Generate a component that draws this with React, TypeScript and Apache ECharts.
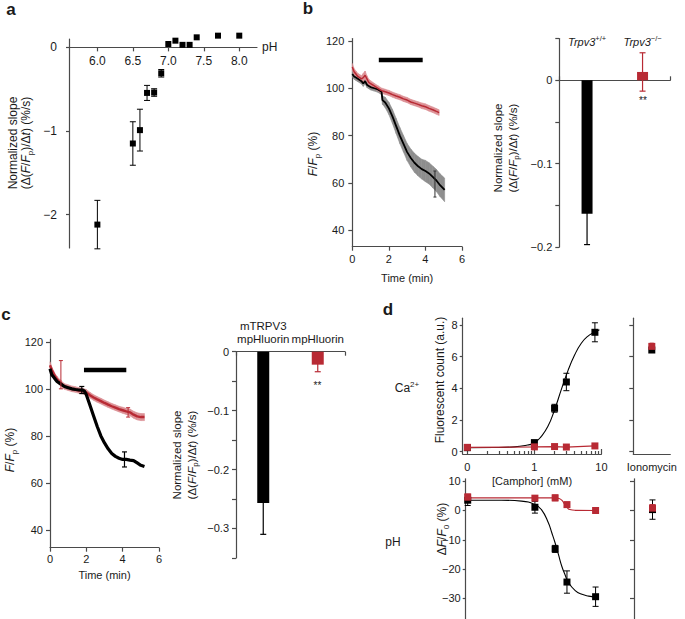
import React, { useEffect, useRef } from 'react';
import * as echarts from 'echarts';

// ---------------- data ----------------
// panel a
const phA = [6.0, 6.5, 6.6, 6.7, 6.8, 6.9, 7.0, 7.1, 7.2, 7.3, 7.4, 7.7, 8.0];
const slopeA = [-2.12, -1.15, -0.99, -0.545, -0.54, -0.31, 0.04, 0.08, 0.03, 0.03, 0.12, 0.14, 0.14];
const semA = [0.29, 0.26, 0.25, 0.09, 0.045, 0.045, 0, 0, 0, 0, 0, 0, 0];
const phTicksA = [6.0, 6.5, 7.0, 7.5, 8.0];
const slopeTicksA = [0, -1, -2];

// panel b (left) time course
const timeRedB = [0, 0.1, 0.2, 0.3, 0.4, 0.5, 0.6, 0.7, 0.8, 0.9, 1.0, 1.2, 1.4, 1.6, 1.8, 2.0, 2.2, 2.4, 2.6, 2.8, 3.0, 3.2, 3.4, 3.6, 3.8, 4.0, 4.2, 4.4, 4.6, 4.75];
const redB = [109, 107, 106, 105, 104.5, 104, 104.5, 105.5, 104, 102.5, 102, 101, 100, 99, 98.5, 98, 97.3, 96.7, 96.2, 95.5, 95, 94.2, 93.7, 93.2, 92.6, 92.2, 91.5, 90.9, 90.2, 89.7];
const semRedB = [1.5, 1.3, 1.3, 1.3, 1.3, 1.3, 1.8, 1.8, 1.3, 1.3, 1.2, 1.1, 1.1, 1.1, 1.1, 1.1, 1.1, 1.1, 1.1, 1.1, 1.1, 1.1, 1.1, 1.1, 1.2, 1.2, 1.2, 1.2, 1.2, 1.2];
const timeBlackB = [0, 0.1, 0.2, 0.3, 0.4, 0.5, 0.6, 0.7, 0.8, 0.9, 1.0, 1.2, 1.4, 1.6, 1.65, 1.8, 2.0, 2.2, 2.4, 2.6, 2.8, 3.0, 3.2, 3.4, 3.6, 3.8, 4.0, 4.2, 4.4, 4.6, 4.8, 5.05];
const blackB = [106, 105, 104.5, 104, 103.5, 103, 102, 103, 101.5, 101, 100.5, 100, 99.5, 98.5, 95, 94, 91.5, 88, 84, 80, 76.5, 73, 70.5, 68.5, 67, 65.8, 65, 64, 62.5, 61, 59, 57];
const semBlackB = [1.2, 1.2, 1.2, 1.2, 1.2, 1.2, 1.2, 1.2, 1.2, 1.2, 1.2, 1.2, 1.2, 1.2, 1.8, 2.2, 2.6, 3, 3.2, 3.4, 3.5, 3.6, 3.8, 4, 4.1, 4.2, 4.5, 4.5, 4.6, 4.7, 4.8, 5];
const spikesB = { time: [4.52], value: [59.5], err: [5.5] };
const stimB = { start: 1.45, end: 3.85, level: 112 };
const timeTicks = [0, 2, 4, 6];
const fTicks = [40, 60, 80, 100, 120];

// panel b (right) bars
const catsB = ['Trpv3+/+', 'Trpv3−/−'];
const slopeB = [-0.16, 0.01];
const semSlopeB = [0.037, 0.023];
const tickValsB = [0.05, 0, -0.05, -0.1, -0.15, -0.2];
const labelValsB = [0, -0.1, -0.2];

// panel c (left) time course
const timeRedC = [0, 0.1, 0.2, 0.3, 0.4, 0.5, 0.6, 0.7, 0.8, 1.0, 1.2, 1.4, 1.6, 1.8, 2.0, 2.2, 2.4, 2.6, 2.8, 3.0, 3.2, 3.4, 3.6, 3.8, 4.0, 4.2, 4.4, 4.6, 4.8, 5.0, 5.2];
const redC = [110, 108, 106.5, 105, 104, 103, 102.5, 101.5, 101, 100.5, 100, 99.7, 99.3, 99, 98.5, 97.3, 96.3, 95.5, 94.8, 94, 93.3, 92.6, 92, 91.4, 90.9, 90.4, 90, 89, 88.3, 88, 88];
const semRedC = [1.5, 1.2, 1.2, 1.2, 1.2, 1.2, 1.2, 1.2, 1.2, 1.2, 1.2, 1.2, 1.2, 1.2, 1.2, 1.2, 1.2, 1.2, 1.2, 1.2, 1.2, 1.2, 1.2, 1.2, 1.3, 1.3, 1.4, 1.5, 1.5, 1.5, 1.5];
const timeBlackC = [0, 0.1, 0.2, 0.3, 0.4, 0.5, 0.6, 0.8, 1.0, 1.2, 1.4, 1.6, 1.8, 1.9, 2.0, 2.2, 2.4, 2.6, 2.8, 3.0, 3.2, 3.4, 3.6, 3.8, 4.0, 4.2, 4.4, 4.6, 4.8, 5.0, 5.2];
const blackC = [108.5, 106, 105, 104, 103, 102.5, 102, 101, 100.5, 100, 99.7, 99.5, 99.5, 99, 97.5, 93, 88.5, 84, 80, 77, 74.5, 72.5, 71.3, 70.5, 70, 70, 69.7, 69.5, 68.5, 67.5, 67];
const spikesRedC = { time: [0.6, 4.3], value: [106, 90], err: [6, 2] };
const spikesBlackC = { time: [1.75, 4.1], value: [99.5, 70], err: [1.5, 3.2] };
const stimC = { start: 1.87, end: 4.2, level: 108 };

// panel c (right) bars
const catsC = ['mTRPV3\nmpHluorin', 'mpHluorin'];
const slopeC = [-0.257, -0.022];
const semSlopeC = [0.053, 0.012];
const tickValsC = [0, -0.05, -0.1, -0.15, -0.2, -0.25, -0.3, -0.35];
const labelValsC = [0, -0.1, -0.2, -0.3];

// panel d
const camphor = [0, 1, 2, 3, 8]; // mM ("0" drawn at the 0.1 position of the log axis)
const caBlack = [0.25, 0.57, 2.74, 4.4, 7.54];
const caBlackErr = [0.08, 0.12, 0.25, 0.55, 0.6];
const caRed = [0.27, 0.3, 0.32, 0.29, 0.36];
const caRedErr = [0.05, 0.05, 0.05, 0.05, 0.05];
const caFitLogConc = [-1, -0.6, -0.3, -0.1, 0, 0.1, 0.2, 0.3, 0.4, 0.5, 0.6, 0.7, 0.8, 0.9, 0.97];
const caFitBlack = [0.25, 0.26, 0.3, 0.42, 0.55, 0.95, 1.58, 2.63, 3.9, 5.1, 6.1, 6.85, 7.3, 7.55, 7.7];
const phBlack = [3.5, 1.1, -13.1, -24.4, -29.4];
const phBlackErr = [1.8, 2.0, 1.2, 3.8, 3.3];
const phRed = [4.6, 4.2, 4.3, 2.0, 0];
const phRedErr = [1.0, 0.8, 1.0, 0.8, 0.4];
const phFitLogConc = [-1, -0.5, -0.2, 0, 0.1, 0.2, 0.25, 0.3, 0.35, 0.4, 0.45, 0.5, 0.6, 0.7, 0.8, 0.9];
const phFitBlack = [3.5, 3.5, 3.2, 2.0, 0.2, -4.2, -7.5, -11, -15, -19, -22, -24.6, -27.3, -28.6, -29.2, -29.5];
const phFitRedLogConc = [-1, 0.3, 0.36, 0.4, 0.44, 0.48, 0.52, 0.6, 0.9];
const phFitRed = [4.3, 4.3, 4.1, 3.5, 2.2, 1.0, 0.3, 0.05, 0];
const ionoCats = ['Ionomycin'];
const ionoCa = { black: 6.42, blackErr: 0.1, red: 6.65, redErr: 0.2 };
const ionoPh = { black: 0.3, blackErr: 3.3, red: 0.8, redErr: 1.2 };
const camphorMajor = [0.1, 1, 10];
const camphorMinor = [0.2, 0.3, 0.4, 0.5, 0.6, 0.7, 0.8, 0.9, 2, 3, 4, 5, 6, 7, 8, 9];
const caTicks = [0, 2, 4, 6, 8];
const phTicks = [10, 0, -10, -20, -30];

// ---------------- styles ----------------
const FONT = "'Liberation Sans', Arial, Helvetica, sans-serif";
const AX = '#4a4a4a';
const TXT = '#1a1a1a';
const RED = '#b82a34';
const REDBAND = '#dc9196';
const GRAYBAND = '#8e8e8e';

const toLog = (c: number) => (c === 0 ? -1 : Math.log10(c));
const fmtMinus = (v: number) => (v < 0 ? '\u2212' + String(Math.abs(v)) : String(v));

const axLine = (show = true, onZero = false) => ({ show, onZero, lineStyle: { color: AX, width: 1.2 } });

function richFor(fs: number) {
  const lh = fs + 4;
  return {
    i: { fontStyle: 'italic', fontSize: fs, fontFamily: FONT, fill: TXT, color: TXT, lineHeight: lh },
    n: { fontSize: fs, fontFamily: FONT, fill: TXT, color: TXT, lineHeight: lh },
    sub: { fontSize: Math.round(fs * 0.68), fontFamily: FONT, fill: TXT, color: TXT, verticalAlign: 'bottom', lineHeight: Math.round(fs * 0.68) },
    sup: { fontSize: Math.round(fs * 0.68), fontFamily: FONT, fill: TXT, color: TXT, verticalAlign: 'top', lineHeight: Math.round(fs * 0.68) },
  };
}

function txt(x: number, y: number, text: string, fs: number, opts: any = {}) {
  return {
    type: 'text',
    x,
    y,
    rotation: opts.rotate ? Math.PI / 2 : 0,
    silent: true,
    style: {
      text,
      fill: TXT,
      fontSize: fs,
      fontFamily: FONT,
      fontWeight: opts.bold ? 'bold' : 'normal',
      lineHeight: fs + 4,
      align: 'center',
      verticalAlign: 'middle',
      textAlign: 'center',
      textVerticalAlign: 'middle',
      rich: richFor(fs),
    },
  };
}

function lineS(xi: number, yi: number, xs: number[], ys: number[], color: string, width: number, extra: any = {}) {
  return {
    type: 'line',
    xAxisIndex: xi,
    yAxisIndex: yi,
    data: xs.map((x, i) => [x, ys[i]]),
    symbol: 'none',
    showSymbol: false,
    lineStyle: { color, width },
    itemStyle: { color },
    silent: true,
    z: 3,
    ...extra,
  };
}

// SEM band: one quad between each point and the next
function bandS(xi: number, yi: number, xs: number[], ys: number[], sem: number[], color: string) {
  return {
    type: 'custom',
    xAxisIndex: xi,
    yAxisIndex: yi,
    silent: true,
    z: 2,
    encode: { x: 0, y: [1, 2] },
    data: xs.map((x, i) => [x, ys[i] - sem[i], ys[i] + sem[i]]),
    renderItem: (params: any, api: any) => {
      const i = params.dataIndexInside;
      if (i >= params.dataInsideLength - 1) return null;
      const x1 = api.value(0, i);
      const lo1 = api.value(1, i);
      const hi1 = api.value(2, i);
      const x2 = api.value(0, i + 1);
      const lo2 = api.value(1, i + 1);
      const hi2 = api.value(2, i + 1);
      const pts = [api.coord([x1, hi1]), api.coord([x2, hi2]), api.coord([x2, lo2]), api.coord([x1, lo1])];
      return { type: 'polygon', shape: { points: pts }, style: { fill: color, stroke: color, lineWidth: 0.6 } };
    },
  };
}

function errS(xi: number, yi: number, xs: number[], ys: number[], es: number[], colors: string | string[], cap = 3, lw = 1, z = 4) {
  return {
    type: 'custom',
    xAxisIndex: xi,
    yAxisIndex: yi,
    silent: true,
    z,
    encode: { x: 0, y: 1 },
    data: xs.map((x, i) => [x, ys[i], es[i]]),
    renderItem: (params: any, api: any) => {
      const x = api.value(0);
      const y = api.value(1);
      const e = api.value(2);
      if (!e) return null;
      const c = Array.isArray(colors) ? colors[params.dataIndex] : colors;
      const t = api.coord([x, y + e]);
      const b = api.coord([x, y - e]);
      const st = { stroke: c, lineWidth: lw };
      return {
        type: 'group',
        children: [
          { type: 'line', shape: { x1: t[0], y1: t[1], x2: b[0], y2: b[1] }, style: st },
          { type: 'line', shape: { x1: t[0] - cap, y1: t[1], x2: t[0] + cap, y2: t[1] }, style: st },
          { type: 'line', shape: { x1: b[0] - cap, y1: b[1], x2: b[0] + cap, y2: b[1] }, style: st },
        ],
      };
    },
  };
}

function scatterS(xi: number, yi: number, xs: number[], ys: number[], color: string, size: number, z = 5) {
  return {
    type: 'scatter', xAxisIndex: xi, yAxisIndex: yi, silent: true, z, clip: false,
    symbol: 'rect', symbolSize: size,
    itemStyle: { color, opacity: 1 },
    data: xs.map((x, i) => [x, ys[i]]),
  };
}

function buildOption() {
  const gA = { left: 69, top: 39, width: 188, height: 209 };
  const aMin = -2.4;
  const aMax = 0.1;
  const grids = [
    gA, // 0 a
    { left: 352.3, top: 38.6, width: 109.7, height: 208.1 }, // 1 b left
    { left: 559.3, top: 38.6, width: 111, height: 208.5 }, // 2 b right
    { left: 50, top: 339.4, width: 109, height: 208.3 }, // 3 c left
    { left: 236, top: 351.7, width: 109, height: 206.2 }, // 4 c right
    { left: 462.7, top: 318.2, width: 138.7, height: 135.8 }, // 5 d top left
    { left: 633.3, top: 318.2, width: 37, height: 135.8 }, // 6 d top right
    { left: 465.7, top: 478.8, width: 136.4, height: 140.2 }, // 7 d bottom left
    { left: 634, top: 478.8, width: 37, height: 140.2 }, // 8 d bottom right
  ].map((g) => ({ ...g, containLabel: false, outerBoundsMode: 'none', show: false }));
  // pixel distance from the bottom of grid a up to its zero line
  const aZeroOffset = (-aMin / (aMax - aMin)) * gA.height;

  const lbl = (fs: number, margin: number, extra: any = {}) => ({ color: TXT, fontSize: fs, fontFamily: FONT, margin, ...extra });
  const tick = (len: number, inside = false, extra: any = {}) => ({ show: true, length: len, inside, lineStyle: { color: AX, width: 1.2 }, ...extra });
  const catRichTop = {
    i: { fontStyle: 'italic', fontSize: 11, fontFamily: FONT, color: TXT, lineHeight: 14 },
    sup: { fontSize: 7.5, fontFamily: FONT, color: TXT, verticalAlign: 'top', lineHeight: 8 },
  };

  const xAxis: any[] = [
    // 0 a (drawn on the zero line)
    {
      type: 'value', gridIndex: 0, min: 5.6, max: 8.25, splitLine: { show: false },
      position: 'bottom', offset: -aZeroOffset,
      axisLine: axLine(true, false),
      axisTick: tick(4, false, { customValues: phTicksA }),
      axisLabel: lbl(12, 8, { customValues: phTicksA, formatter: (v: number) => v.toFixed(1) }),
      name: 'pH', nameLocation: 'end', nameGap: 5, nameTextStyle: { color: TXT, fontSize: 12, fontFamily: FONT },
    },
    // 1 b left
    {
      type: 'value', gridIndex: 1, min: 0, max: 6, splitLine: { show: false },
      axisLine: axLine(true, false),
      axisTick: tick(4, false, { customValues: timeTicks }),
      axisLabel: lbl(11, 7, { customValues: timeTicks }),
      name: 'Time (min)', nameLocation: 'middle', nameGap: 26, nameTextStyle: { color: TXT, fontSize: 11, fontFamily: FONT },
    },
    // 2 b right (zero line)
    {
      type: 'category', gridIndex: 2, data: catsB, position: 'bottom',
      axisLine: axLine(true, true), axisTick: tick(4, true), axisLabel: { show: false }, splitLine: { show: false },
    },
    // 3 b right (top labels)
    {
      type: 'category', gridIndex: 2, data: catsB, position: 'top',
      axisLine: { show: false, onZero: false }, axisTick: { show: false }, splitLine: { show: false },
      axisLabel: {
        color: TXT, fontSize: 11, fontFamily: FONT, margin: -10, interval: 0,
        formatter: (v: string) => v.replace(/^(Trpv3)(.*)$/, '{i|$1}{sup|$2}'),
        rich: catRichTop,
      },
    },
    // 4 c left
    {
      type: 'value', gridIndex: 3, min: 0, max: 6, splitLine: { show: false },
      axisLine: axLine(true, false),
      axisTick: tick(4, false, { customValues: timeTicks }),
      axisLabel: lbl(11, 6, { customValues: timeTicks }),
      name: 'Time (min)', nameLocation: 'middle', nameGap: 22, nameTextStyle: { color: TXT, fontSize: 11, fontFamily: FONT },
    },
    // 5 c right (zero line at top)
    {
      type: 'category', gridIndex: 4, data: catsC, position: 'bottom',
      axisLine: axLine(true, true), axisTick: tick(4, false), axisLabel: { show: false }, splitLine: { show: false },
    },
    // 6 c right (top labels)
    {
      type: 'category', gridIndex: 4, data: catsC, position: 'top',
      axisLine: { show: false, onZero: false }, axisTick: { show: false }, splitLine: { show: false },
      axisLabel: { color: TXT, fontSize: 11.5, fontFamily: FONT, margin: 6, interval: 0, lineHeight: 13 },
    },
    // 7 d top left major
    {
      type: 'value', gridIndex: 5, min: -1.07, max: 1.0, splitLine: { show: false },
      axisLine: axLine(true, false),
      axisTick: tick(5, true, { customValues: camphorMajor.map(Math.log10) }),
      axisLabel: lbl(11, 7, {
        customValues: camphorMajor.map(Math.log10),
        formatter: (v: number) => (v <= -0.99 ? '0' : String(Math.round(Math.pow(10, v)))),
      }),
      name: '[Camphor] (mM)', nameLocation: 'middle', nameGap: 21, nameTextStyle: { color: TXT, fontSize: 11, fontFamily: FONT },
    },
    // 8 d top left minor ticks
    {
      type: 'value', gridIndex: 5, min: -1.07, max: 1.0, splitLine: { show: false }, position: 'bottom',
      axisLine: { show: false, onZero: false },
      axisTick: tick(3, true, { customValues: camphorMinor.map(Math.log10) }),
      axisLabel: { show: false },
    },
    // 9 d top right
    {
      type: 'category', gridIndex: 6, data: ionoCats,
      axisLine: axLine(true, false), axisTick: { show: false }, splitLine: { show: false },
      axisLabel: lbl(11, 7, { interval: 0 }),
    },
    // 10 d bottom left
    { type: 'value', gridIndex: 7, min: -1.03, max: 1.0, show: false, axisLine: { onZero: false }, splitLine: { show: false } },
    // 11 d bottom right
    { type: 'category', gridIndex: 8, data: ionoCats, show: false, axisLine: { onZero: false } },
  ];

  const yAxis: any[] = [
    // 0 a
    {
      type: 'value', gridIndex: 0, min: aMin, max: aMax, splitLine: { show: false },
      axisLine: axLine(true, false),
      axisTick: tick(3, false, { customValues: slopeTicksA }),
      axisLabel: lbl(12, 12, { customValues: slopeTicksA, formatter: fmtMinus }),
    },
    // 1 b left
    {
      type: 'value', gridIndex: 1, min: 33, max: 121, splitLine: { show: false },
      axisLine: axLine(true, false),
      axisTick: tick(4, false, { customValues: fTicks }),
      axisLabel: lbl(11, 8, { customValues: fTicks }),
    },
    // 2 b right
    {
      type: 'value', gridIndex: 2, min: -0.2, max: 0.05, splitLine: { show: false },
      axisLine: axLine(true, false),
      axisTick: tick(4, false, { customValues: tickValsB }),
      axisLabel: lbl(11, 7, { customValues: labelValsB, formatter: fmtMinus }),
    },
    // 3 c left
    {
      type: 'value', gridIndex: 3, min: 32.5, max: 121, splitLine: { show: false },
      axisLine: axLine(true, false),
      axisTick: tick(4, false, { customValues: fTicks }),
      axisLabel: lbl(11, 7, { customValues: fTicks }),
    },
    // 4 c right
    {
      type: 'value', gridIndex: 4, min: -0.35, max: 0, splitLine: { show: false },
      axisLine: axLine(true, false),
      axisTick: tick(4, false, { customValues: tickValsC }),
      axisLabel: lbl(11, 7, { customValues: labelValsC, formatter: fmtMinus }),
    },
    // 5 d top left
    {
      type: 'value', gridIndex: 5, min: -0.15, max: 8.43, splitLine: { show: false },
      axisLine: axLine(true, false),
      axisTick: tick(3, false, { customValues: caTicks }),
      axisLabel: lbl(11, 5, { customValues: caTicks }),
    },
    // 6 d top right
    {
      type: 'value', gridIndex: 6, min: -0.15, max: 8.43, splitLine: { show: false },
      axisLine: axLine(true, false),
      axisTick: tick(4, false, { customValues: caTicks }),
      axisLabel: { show: false },
    },
    // 7 d bottom left
    {
      type: 'value', gridIndex: 7, min: -37, max: 10.8, splitLine: { show: false },
      axisLine: axLine(true, false),
      axisTick: tick(3, false, { customValues: phTicks }),
      axisLabel: lbl(11, 5, { customValues: phTicks, formatter: fmtMinus }),
    },
    // 8 d bottom right
    {
      type: 'value', gridIndex: 8, min: -37, max: 10.8, splitLine: { show: false },
      axisLine: axLine(true, false),
      axisTick: tick(4, false, { customValues: phTicks }),
      axisLabel: { show: false },
    },
  ];

  const camLog = camphor.map(toLog);

  const series: any[] = [
    // ---- a ----
    errS(0, 0, phA, slopeA, semA, '#000', 3, 1),
    scatterS(0, 0, phA, slopeA, '#000', 6),

    // ---- b left ----
    bandS(1, 1, timeBlackB, blackB, semBlackB, GRAYBAND),
    lineS(1, 1, timeBlackB, blackB, '#000', 1.8),
    errS(1, 1, spikesB.time, spikesB.value, spikesB.err, '#333', 1.5, 1),
    bandS(1, 1, timeRedB, redB, semRedB, REDBAND),
    lineS(1, 1, timeRedB, redB, RED, 1.5),
    lineS(1, 1, [stimB.start, stimB.end], [stimB.level, stimB.level], '#000', 4.5),

    // ---- b right ----
    errS(2, 2, [0, 1], slopeB, semSlopeB, ['#000', RED], 3, 1.2, 2),
    {
      type: 'bar', xAxisIndex: 2, yAxisIndex: 2, barWidth: 11, silent: true, z: 3,
      data: slopeB.map((v, i) => ({ value: v, itemStyle: { color: i === 0 ? '#000' : RED } })),
    },

    // ---- c left ----
    bandS(4, 3, timeRedC, redC, semRedC, REDBAND),
    lineS(4, 3, timeRedC, redC, RED, 2.4),
    errS(4, 3, spikesRedC.time, spikesRedC.value, spikesRedC.err, RED, 2, 1),
    lineS(4, 3, timeBlackC, blackC, '#000', 3.2),
    errS(4, 3, spikesBlackC.time, spikesBlackC.value, spikesBlackC.err, '#000', 2.5, 1.2),
    lineS(4, 3, [stimC.start, stimC.end], [stimC.level, stimC.level], '#000', 4.5),

    // ---- c right ----
    errS(5, 4, [0, 1], slopeC, semSlopeC, ['#000', RED], 3, 1.2, 2),
    {
      type: 'bar', xAxisIndex: 5, yAxisIndex: 4, barWidth: 12, silent: true, z: 3,
      data: slopeC.map((v, i) => ({ value: v, itemStyle: { color: i === 0 ? '#000' : RED } })),
    },

    // ---- d top left (Ca2+) ----
    lineS(7, 5, caFitLogConc, caFitBlack, '#000', 1.1, { smooth: true }),
    errS(7, 5, camLog, caBlack, caBlackErr, '#000', 3, 1),
    scatterS(7, 5, camLog, caBlack, '#000', 7),
    lineS(7, 5, camLog, caRed, RED, 1.2, { z: 6 }),
    errS(7, 5, camLog, caRed, caRedErr, RED, 3, 1, 6),
    scatterS(7, 5, camLog, caRed, RED, 7, 7),

    // ---- d top right ----
    errS(9, 6, [0, 0], [ionoCa.black, ionoCa.red], [ionoCa.blackErr, ionoCa.redErr], ['#000', RED], 2, 1),
    scatterS(9, 6, [0], [ionoCa.black], '#000', 7),
    scatterS(9, 6, [0], [ionoCa.red], RED, 7, 6),

    // ---- d bottom left (pH) ----
    lineS(10, 7, phFitLogConc, phFitBlack, '#000', 1.1, { smooth: true }),
    lineS(10, 7, phFitRedLogConc, phFitRed, RED, 1.1, { smooth: true }),
    errS(10, 7, camLog, phBlack, phBlackErr, '#000', 3, 1),
    scatterS(10, 7, camLog, phBlack, '#000', 7),
    errS(10, 7, camLog, phRed, phRedErr, RED, 3, 1, 6),
    scatterS(10, 7, camLog, phRed, RED, 7, 7),

    // ---- d bottom right ----
    errS(11, 8, [0, 0], [ionoPh.black, ionoPh.red], [ionoPh.blackErr, ionoPh.redErr], ['#000', RED], 3, 1),
    scatterS(11, 8, [0], [ionoPh.black], '#000', 7),
    scatterS(11, 8, [0], [ionoPh.red], RED, 7, 6),
  ];

  const slopeName2 = '(\u0394({i|F}/{i|F}{sub|p})/\u0394{i|t}) (%/s)';
  const graphic: any[] = [
    txt(11, 9, 'a', 17, { bold: true }),
    txt(308, 8, 'b', 17, { bold: true }),
    txt(6, 314, 'c', 17, { bold: true }),
    txt(388, 309, 'd', 17, { bold: true }),
    // a y-name
    txt(13, 143, 'Normalized slope', 12, { rotate: true }),
    txt(26, 143, slopeName2, 12, { rotate: true }),
    // b
    txt(313, 154, '{i|F}/{i|F}{sub|p} (%)', 12, { rotate: true }),
    txt(498, 148, 'Normalized slope', 11.5, { rotate: true }),
    txt(513, 148, slopeName2, 11.5, { rotate: true }),
    txt(643, 100, '**', 10),
    // c
    txt(10, 450, '{i|F}/{i|F}{sub|p} (%)', 12, { rotate: true }),
    txt(177, 455, 'Normalized slope', 11.5, { rotate: true }),
    txt(192, 455, slopeName2, 11.5, { rotate: true }),
    txt(317.5, 385, '**', 10),
    // d
    txt(440, 380, 'Fluorescent count (a.u.)', 12, { rotate: true }),
    txt(442, 529, '\u0394{i|F}/{i|F}{sub|0} (%)', 12, { rotate: true }),
    txt(407, 388, 'Ca{sup|2+}', 12),
    txt(393, 542, 'pH', 12),
  ];

  return {
    animation: false,
    backgroundColor: '#fff',
    textStyle: { fontFamily: FONT },
    grid: grids,
    xAxis,
    yAxis,
    series,
    graphic,
  };
}

export default function App() {
  const ref = useRef<HTMLDivElement>(null);
  useEffect(() => {
    const chart = echarts.init(ref.current as HTMLDivElement, null, { renderer: 'svg' });
    chart.setOption(buildOption() as any);
    return () => chart.dispose();
  }, []);
  return (
    <div
      ref={ref}
      style={{ position: 'absolute', left: 0, top: 0, width: 685, height: 619, background: '#fff' }}
    />
  );
}
